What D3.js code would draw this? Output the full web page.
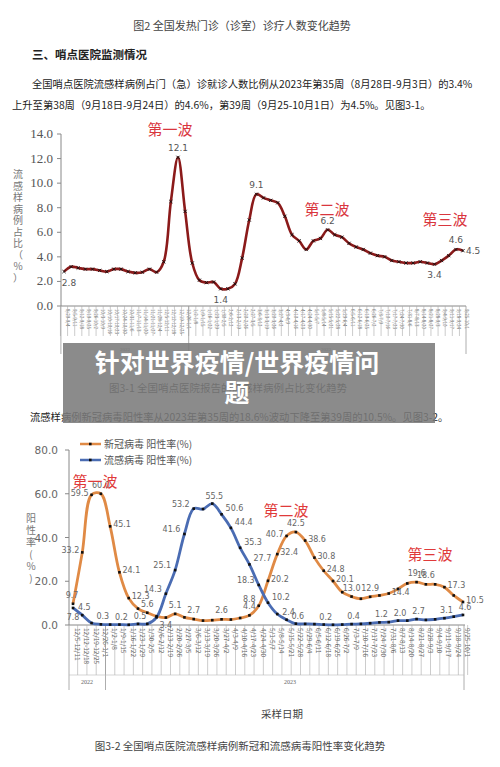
<!DOCTYPE html>
<html><head><meta charset="utf-8">
<script src="https://cdn.jsdelivr.net/npm/d3@7"></script>
<style>body{margin:0;background:#fff}svg{display:block}</style>
</head><body><svg id="c" width="500" height="767"></svg>
<script>
const weeks2023 = ["12/5-12/11","12/12-12/18","12/19-12/25","12/26-1/1","1/2-1/8","1/9-1/15","1/16-1/22","1/23-1/29","1/30-2/5","2/6-2/12","2/13-2/19","2/20-2/26","2/27-3/5","3/6-3/12","3/13-3/19","3/20-3/26","3/27-4/2","4/3-4/9","4/10-4/16","4/17-4/23","4/24-4/30","5/1-5/7","5/8-5/14","5/15-5/21","5/22-5/28","5/29-6/4","6/5-6/11","6/12-6/18","6/19-6/25","6/26-7/2","7/3-7/9","7/10-7/16","7/17-7/23","7/24-7/30","7/31-8/6","8/7-8/13","8/14-8/20","8/21-8/27","8/28-9/3","9/4-9/10","9/11-9/17","9/18-9/24","9/25-10/1"];
const weeksPrefix = ["8/29-9/4","9/5-9/11","9/12-9/18","9/19-9/25","9/26-10/2","10/3-10/9","10/10-10/16","10/17-10/23","10/24-10/30","10/31-11/6","11/7-11/13","11/14-11/20","11/21-11/27","11/28-12/4"];
const topWeeks = weeksPrefix.concat(weeks2023);
const iliShare = [2.8,3.2,3.1,3.0,3.0,2.9,2.8,3.0,3.0,2.8,2.7,2.75,3.0,2.75,3.6,8.5,12.1,7.7,3.5,2.1,1.9,1.95,1.4,1.4,1.8,3.9,7.0,9.1,8.8,8.6,8.4,7.3,5.8,5.3,4.6,5.3,5.5,6.2,5.8,5.6,5.1,4.8,4.6,4.3,4.1,4.0,3.7,3.6,3.5,3.5,3.6,3.5,3.4,3.7,4.1,4.6,4.5];
const iliLabelIdx = [0,16,22,27,37,52,55,56];
const covid = [9.7,33.2,59.5,60.0,45.1,24.1,12.3,7.5,5.6,4.0,3.4,5.1,3.5,2.7,2.0,2.2,2.6,2.5,3.2,4.4,8.8,20.2,32.4,40.7,42.5,38.6,30.8,24.8,20.1,15.0,13.0,12.0,12.9,13.5,14.4,16.5,19.0,19.6,18.6,18.6,17.3,13.5,10.5];
const flu = [7.8,4.5,0.9,0.3,0.2,0.2,0.1,0.5,0.5,3.5,14.3,25.1,41.6,53.2,53.0,55.5,50.6,44.4,35.3,27.7,18.3,10.2,5.0,2.4,0.6,0.5,0.4,0.2,0.1,0.2,0.4,0.5,0.8,1.2,1.3,2.0,2.0,2.7,2.3,2.6,3.1,3.8,4.6];
const covidLabelIdx = [0,1,2,3,4,5,6,8,10,11,13,16,19,20,21,22,23,24,25,26,27,28,30,32,34,37,38,40,42];
const fluLabelIdx = [0,1,3,5,7,10,11,12,13,15,16,17,18,19,20,21,23,24,27,30,33,35,37,40,42];
const topTicks = [0,2,4,6,8,10,12,14];
const botTicks = [0,20,40,60,80];

const svg = d3.select("#c");
const F = "'Noto Sans CJK SC','Noto Sans',sans-serif";
const txt = (x,y,s,o={}) => svg.append("text").attr("x",x).attr("y",y).text(s)
  .attr("font-family",F).attr("font-size",o.size||12).attr("fill",o.fill||"#333")
  .attr("text-anchor",o.anchor||"start").attr("font-weight",o.weight||"normal");

txt(242,30,"图2 全国发热门诊（诊室）诊疗人数变化趋势",{size:11,anchor:"middle",fill:"#444"});
txt(32,59,"三、哨点医院监测情况",{size:11.5,weight:"bold",fill:"#222"});
txt(32,88,"全国哨点医院流感样病例占门（急）诊就诊人数比例从2023年第35周（8月28日-9月3日）的3.4%",{size:10.3,fill:"#222"});
txt(12,109,"上升至第38周（9月18日-9月24日）的4.6%，第39周（9月25-10月1日）为4.5%。见图3-1。",{size:10.3,fill:"#222"});

// ===== top chart
const x1 = d3.scalePoint().domain(topWeeks).range([64,463]);
const y1 = d3.scaleLinear().domain([0,14]).range([306,134]);
const g1 = svg.append("g");
g1.append("line").attr("x1",61).attr("x2",61).attr("y1",134).attr("y2",306).attr("stroke","#888");
g1.append("line").attr("x1",61).attr("x2",466).attr("y1",306).attr("y2",306).attr("stroke","#888");
topTicks.forEach(t=>{
  g1.append("line").attr("x1",57).attr("x2",61).attr("y1",y1(t)).attr("y2",y1(t)).attr("stroke","#888");
  g1.append("text").attr("x",53).attr("y",y1(t)+4).attr("text-anchor","end").attr("font-family","'Liberation Serif',serif").attr("font-size",13).attr("fill","#555").text(t.toFixed(1));
});
g1.append("text").attr("font-family",F).attr("font-size",10).attr("fill","#777")
  .selectAll("tspan").data("流感样病例占比（%）".split("")).join("tspan")
  .attr("x",18).attr("y",(d,i)=>178+i*11.5).attr("text-anchor","middle").text(d=>d);
const step1 = x1.step();
topWeeks.forEach((w,i)=>{
  const x = x1(w);
  g1.append("line").attr("x1",x-step1/2).attr("x2",x-step1/2).attr("y1",306).attr("y2",336).attr("stroke","#aaa").attr("stroke-width",0.6);
  g1.append("text").attr("transform",`translate(${x+1.5},309) rotate(90)`).attr("font-size",4.5).attr("font-family",F).attr("fill","#666").text(w);
});
const div1 = x1(topWeeks[18]) - step1/2;
[61-0.1, div1, 466].forEach(x=>g1.append("line").attr("x1",x).attr("x2",x).attr("y1",306).attr("y2",354).attr("stroke","#999").attr("stroke-width",0.8));
g1.append("text").attr("x",125).attr("y",351).attr("font-size",5).attr("text-anchor","middle").attr("fill","#777").text("2022");
g1.append("text").attr("x",326).attr("y",351).attr("font-size",5).attr("text-anchor","middle").attr("fill","#777").text("2023");
const line1 = d3.line().x((d,i)=>x1(topWeeks[i])).y(d=>y1(d)).curve(d3.curveCatmullRom.alpha(0.5));
g1.append("path").attr("d",line1(iliShare)).attr("fill","none").attr("stroke","#8b1a1a").attr("stroke-width",2.6);
iliShare.forEach((v,i)=>{
  const x=x1(topWeeks[i]), y=y1(v);
  g1.append("path").attr("d",`M${x-1.6},${y-1.6}L${x+1.6},${y+1.6}M${x-1.6},${y+1.6}L${x+1.6},${y-1.6}`).attr("stroke","#111").attr("stroke-width",0.9);
});
iliLabelIdx.forEach(i=>{
  const v=iliShare[i], x=x1(topWeeks[i]), y=y1(v);
  const below = (i===0||i===22||i===52);
  const right = (i===56);
  g1.append("text").attr("x",right?x+3:(i===0?x+5:x)).attr("y",right?y+3:(below?y+14:y-6)).attr("text-anchor",right?"start":"middle")
    .attr("font-size",9).attr("font-family","'DejaVu Sans',sans-serif").attr("fill","#555").text(v.toFixed(1));
});
txt(170,135,"第一波",{size:15,anchor:"middle",fill:"#d9363e"});
txt(327,215,"第二波",{size:15,anchor:"middle",fill:"#d9363e"});
txt(445,225,"第三波",{size:15,anchor:"middle",fill:"#d9363e"});

txt(228,392,"图3-1  全国哨点医院报告的流感样病例占比变化趋势",{size:10.5,anchor:"middle",fill:"#333"});
txt(30,421,"流感样病例新冠病毒阳性率从2023年第35周的18.6%波动下降至第39周的10.5%。见图3-2。",{size:10.3,fill:"#222"});

svg.append("rect").attr("x",63).attr("y",343).attr("width",372).attr("height",80).attr("fill","#7a7a7a").attr("opacity",0.87);
txt(237,372,"针对世界疫情/世界疫情问",{size:25,anchor:"middle",fill:"#fff",weight:"bold"});
txt(237,402,"题",{size:25,anchor:"middle",fill:"#fff",weight:"bold"});

// ===== bottom chart
const x2 = d3.scalePoint().domain(weeks2023).range([73,463]);
const y2 = d3.scaleLinear().domain([0,80]).range([625,450]);
const g2 = svg.append("g");
g2.append("line").attr("x1",69).attr("x2",69).attr("y1",450).attr("y2",625).attr("stroke","#888");
g2.append("line").attr("x1",69).attr("x2",465).attr("y1",625).attr("y2",625).attr("stroke","#888");
botTicks.forEach(t=>{
  g2.append("line").attr("x1",65).attr("x2",69).attr("y1",y2(t)).attr("y2",y2(t)).attr("stroke","#888");
  g2.append("text").attr("x",58).attr("y",y2(t)+4).attr("text-anchor","end").attr("font-family","'DejaVu Sans',sans-serif").attr("font-size",10.5).attr("fill","#666").text(t.toFixed(1));
});
g2.append("text").attr("font-family",F).attr("font-size",10).attr("fill","#777")
  .selectAll("tspan").data(["阳","性","率","(","%",")"]).join("tspan")
  .attr("x",31).attr("y",(d,i)=>522+i*12).attr("text-anchor","middle").text(d=>d);
const step2 = x2.step();
weeks2023.forEach((w,i)=>{
  const x=x2(w);
  g2.append("line").attr("x1",x+step2/2).attr("x2",x+step2/2).attr("y1",625).attr("y2",675).attr("stroke","#aaa").attr("stroke-width",0.6);
  g2.append("text").attr("transform",`translate(${x+2},628) rotate(90)`).attr("font-size",6.5).attr("font-family",F).attr("fill","#666").text(w);
});
const div2 = x2(weeks2023[4]) - step2/2;
[69, div2, 464].forEach(x=>g2.append("line").attr("x1",x).attr("x2",x).attr("y1",625).attr("y2",690).attr("stroke","#999").attr("stroke-width",0.8));
g2.append("line").attr("x1",69).attr("x2",464).attr("y1",675).attr("y2",675).attr("stroke","#bbb").attr("stroke-width",0.6);
g2.append("text").attr("x",87).attr("y",684).attr("font-size",6).attr("text-anchor","middle").attr("fill","#666").text("2022");
g2.append("text").attr("x",290).attr("y",684).attr("font-size",6).attr("text-anchor","middle").attr("fill","#666").text("2023");
const line2 = d3.line().x((d,i)=>x2(weeks2023[i])).y(d=>y2(d)).curve(d3.curveCatmullRom.alpha(0.5));
const ORANGE="#e08a45", BLUE="#4a6cb3";
g2.append("path").attr("d",line2(covid)).attr("fill","none").attr("stroke",ORANGE).attr("stroke-width",2.8);
g2.append("path").attr("d",line2(flu)).attr("fill","none").attr("stroke",BLUE).attr("stroke-width",2.8);
[covid,flu].forEach(s=>s.forEach((v,i)=>g2.append("rect").attr("x",x2(weeks2023[i])-1.3).attr("y",y2(v)-1.3).attr("width",2.6).attr("height",2.6).attr("fill","#111")));
const lab = (x,y,v,anchor)=>g2.append("text").attr("x",x).attr("y",y).attr("text-anchor",anchor).attr("font-size",8).attr("font-family","'DejaVu Sans',sans-serif").attr("fill","#666").text(v.toFixed(1));
const leftC = new Set([1,2,23]), rightC=new Set([4,5,6,21,22,25,26,27,28,34,40,42]);
covidLabelIdx.forEach(i=>{
  const x=x2(weeks2023[i]), y=y2(covid[i]);
  if(i===0) lab(x-1,y-6,covid[i],"middle");
  else if(i===10) lab(x,y+10,covid[i],"middle");
  else if(i===20) lab(x-3,y-4,covid[i],"end");
  else if(leftC.has(i)) lab(x-3,y+1,covid[i],"end");
  else if(rightC.has(i)) lab(x+3,y+1,covid[i],"start");
  else lab(x,y-6,covid[i],"middle");
});
const leftF = new Set([10,11,12,13,20]), rightF=new Set([16,17,18,19,21]);
fluLabelIdx.forEach(i=>{
  const x=x2(weeks2023[i]), y=y2(flu[i]);
  if(i===0) lab(x,y+12,flu[i],"middle");
  else if(leftF.has(i)) lab(x-4,y-2,flu[i],"end");
  else if(rightF.has(i)) lab(x+4,y-3,flu[i],"start");
  else lab(x+2,y-5,flu[i],"middle");
});
[[ORANGE,"新冠病毒 阳性率(%)",444],[BLUE,"流感病毒 阳性率(%)",460]].forEach(([c,t,y])=>{
  g2.append("line").attr("x1",80).attr("x2",101).attr("y1",y).attr("y2",y).attr("stroke",c).attr("stroke-width",2.5);
  g2.append("rect").attr("x",89).attr("y",y-1.3).attr("width",2.6).attr("height",2.6).attr("fill","#111");
  txt(104,y+4,t,{size:10,fill:"#555"});
});
txt(95,487,"第一波",{size:15,anchor:"middle",fill:"#e03a3a"});
txt(286,516,"第二波",{size:15,anchor:"middle",fill:"#e03a3a"});
txt(430,560,"第三波",{size:15,anchor:"middle",fill:"#e03a3a"});
txt(282,718,"采样日期",{size:10.5,anchor:"middle",fill:"#444"});
txt(240,750,"图3-2 全国哨点医院流感样病例新冠和流感病毒阳性率变化趋势",{size:10.5,anchor:"middle",fill:"#444"});
</script></body></html>
